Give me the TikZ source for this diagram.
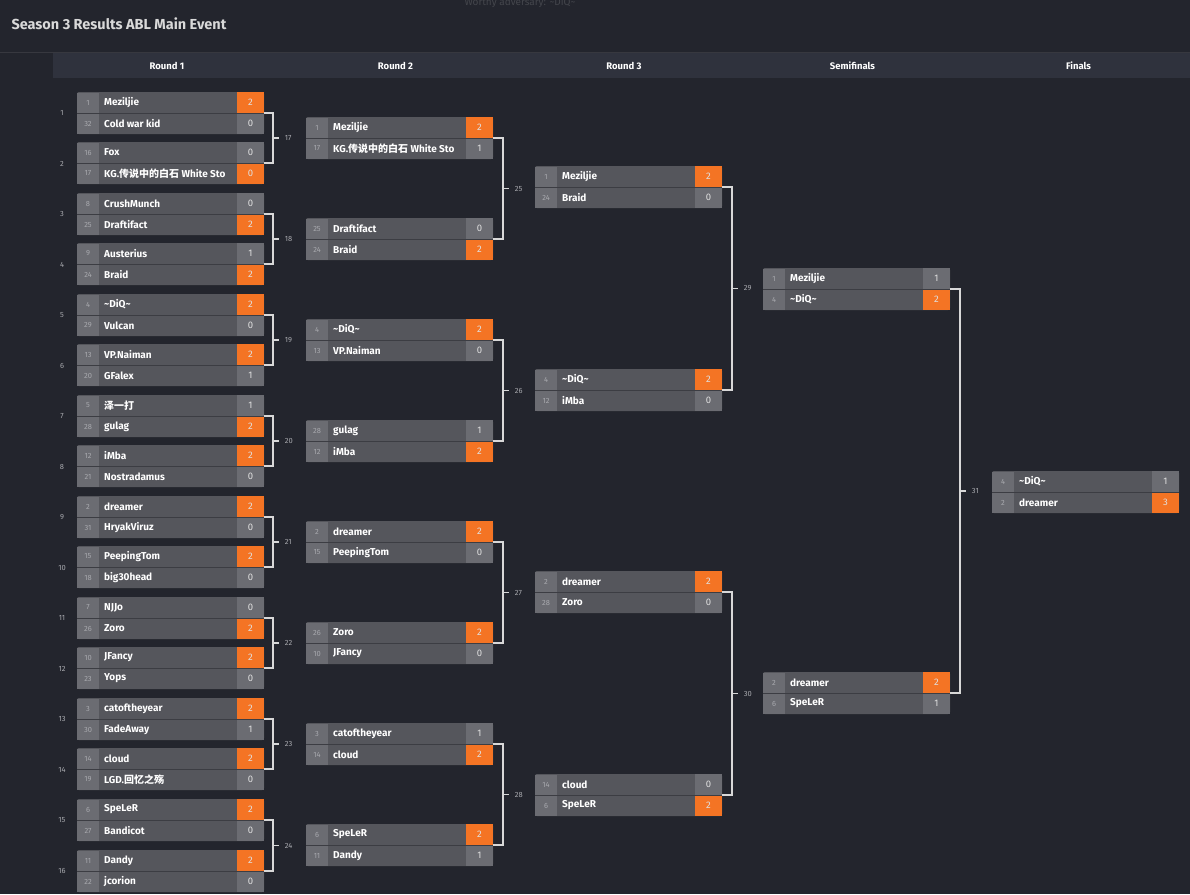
\documentclass[tikz,border=0pt]{standalone}
\usepackage{fontspec}
\setmainfont{Fira Sans}
\newfontfamily\cjk{Noto Sans CJK SC}
\usetikzlibrary{calc}
\definecolor{bgc}{HTML}{23252D}
\definecolor{hdr}{HTML}{2F323D}
\definecolor{namec}{HTML}{55565C}
\definecolor{seedc}{HTML}{6B6C72}
\definecolor{scorec}{HTML}{6B6C72}
\definecolor{orng}{HTML}{F47424}
\definecolor{sepc}{HTML}{3C3D43}
\definecolor{brc}{HTML}{D8D8D8}
\definecolor{lblc}{HTML}{A8A9AE}
\tikzset{
  br/.style={draw=brc,line width=1.5pt},
  lbl/.style={text=lblc,font=\fontsize{7.5}{8}\selectfont,inner sep=1pt},
  seedt/.style={text=lblc,font=\fontsize{7.5}{8}\selectfont,inner sep=0},
  namet/.style={text=white,font=\fontsize{10}{11}\selectfont\bfseries,anchor=west,inner sep=0},
  scoret/.style={text=white!88!black,font=\fontsize{9.5}{10}\selectfont,inner sep=0},
  matchbox/.style={minimum width=187pt,minimum height=42pt,inner sep=0,fill=namec,rounded corners=2pt},
  colhdr/.style={text=white,font=\fontsize{9.5}{10}\selectfont\bfseries}
}
\begin{document}
\begin{tikzpicture}[x=1pt,y=-1pt]
\fill[bgc] (0,0) rectangle (1190,894);
\useasboundingbox (0,0) rectangle (1190,894);
\node[text=bgc!85!white,font=\fontsize{10}{10}\selectfont,anchor=north] (wa) at (520,-6) {Worthy adversary: \textasciitilde DiQ\textasciitilde};
\node[anchor=west,text=white!85!black,font=\fontsize{14.5}{15}\selectfont\bfseries] (title) at (8,24) {Season 3 Results ABL Main Event};
\draw[sepc!80!bgc,line width=1pt] (0,52) -- (1190,52);
\foreach \i/\a/\b/\t in {1/53/281/Round 1,2/281/510/Round 2,3/510/738/Round 3,4/738/967/Semifinals,5/967/1190/Finals}{
  \fill[hdr] (\a,53) rectangle (\b,78);
  \draw[bgc!80!hdr,line width=0.8pt] (\b,53) -- (\b,78);
  \node[colhdr] (h\i) at ({(\a+\b)/2},66) {\t};
}
\foreach \k/\x/\y/\sa/\na/\ca/\wa/\sb/\nb/\cb/\wb in {
 1/77/92/1/Meziljie/2/1/32/Cold war kid/0/0,
 2/77/142/16/Fox/0/0/17/{KG.{\cjk 传说中的白石} White Sto}/0/1,
 3/77/193/8/CrushMunch/0/0/25/Draftifact/2/1,
 4/77/243/9/Austerius/1/0/24/Braid/2/1,
 5/77/294/4/\textasciitilde DiQ\textasciitilde/2/1/29/Vulcan/0/0,
 6/77/344/13/VP.Naiman/2/1/20/GFalex/1/0,
 7/77/395/5/{\cjk 泽一打}/1/0/28/gulag/2/1,
 8/77/445/12/iMba/2/1/21/Nostradamus/0/0,
 9/77/496/2/dreamer/2/1/31/HryakViruz/0/0,
 10/77/546/15/PeepingTom/2/1/18/big30head/0/0,
 11/77/597/7/NJJo/0/0/26/Zoro/2/1,
 12/77/647/10/JFancy/2/1/23/Yops/0/0,
 13/77/698/3/catoftheyear/2/1/30/FadeAway/1/0,
 14/77/748/14/cloud/2/1/19/{LGD.{\cjk 回忆之殇}}/0/0,
 15/77/799/6/SpeLeR/2/1/27/Bandicot/0/0,
 16/77/850/11/Dandy/2/1/22/jcorion/0/0,
 17/306/117/1/Meziljie/2/1/17/{KG.{\cjk 传说中的白石} White Sto}/1/0,
 18/306/218/25/Draftifact/0/0/24/Braid/2/1,
 19/306/319/4/\textasciitilde DiQ\textasciitilde/2/1/13/VP.Naiman/0/0,
 20/306/420/28/gulag/1/0/12/iMba/2/1,
 21/306/521/2/dreamer/2/1/15/PeepingTom/0/0,
 22/306/622/26/Zoro/2/1/10/JFancy/0/0,
 23/306/723/3/catoftheyear/1/0/14/cloud/2/1,
 24/306/824/6/SpeLeR/2/1/11/Dandy/1/0,
 25/535/166/1/Meziljie/2/1/24/Braid/0/0,
 26/535/369/4/\textasciitilde DiQ\textasciitilde/2/1/12/iMba/0/0,
 27/535/571/2/dreamer/2/1/28/Zoro/0/0,
 28/535/774/14/cloud/0/0/6/SpeLeR/2/1,
 29/763/268/1/Meziljie/1/0/4/\textasciitilde DiQ\textasciitilde/2/1,
 30/763/672/2/dreamer/2/1/6/SpeLeR/1/0,
 31/992/471/4/\textasciitilde DiQ\textasciitilde/1/0/2/dreamer/3/1}{
  \node[matchbox] (m\k) at (\x+93.5,\y+21) {};
  \fill[seedc] (\x,\y+0.5) rectangle (\x+22,\y+41.5);
  \ifnum\wa=1 \def\cola{orng}\else\def\cola{scorec}\fi
  \ifnum\wb=1 \def\colb{orng}\else\def\colb{scorec}\fi
  \fill[\cola] (\x+160,\y) rectangle (\x+187,\y+21);
  \fill[\colb] (\x+160,\y+21) rectangle (\x+187,\y+42);
  \draw[sepc,line width=0.8pt] (\x,\y+21) -- (\x+187,\y+21);
  \node[seedt] at (\x+11,\y+10.5) {\sa};
  \node[seedt] at (\x+11,\y+31.5) {\sb};
  \node[namet] at (\x+27,\y+10.5) {\na};
  \node[namet] at (\x+27,\y+31.5) {\nb};
  \node[scoret] at (\x+173.5,\y+10.5) {\ca};
  \node[scoret] at (\x+173.5,\y+31.5) {\cb};
}
\foreach \k in {1,...,16}{
  \node[lbl] (r\k) at (62,{92+(\k-1)*50.5+21}) {\k};
}
\foreach \a/\b/\n/\d in {1/2/17/9,3/4/18/9,5/6/19/9,7/8/20/9,9/10/21/9,11/12/22/9,13/14/23/9,15/16/24/9,
  17/18/25/10,19/20/26/10,21/22/27/10,23/24/28/10,25/26/29/10,27/28/30/10,29/30/31/10}{
  \draw[br] (m\a.east) -- ++(\d,0) |- (m\b.east);
  \draw[br] ($(m\a.east)!0.5!(m\b.east)+(\d,0)$) -- ++(6,0) node[lbl,anchor=west,xshift=4pt] (b\n) {\n};
}
\end{tikzpicture}
\end{document}
